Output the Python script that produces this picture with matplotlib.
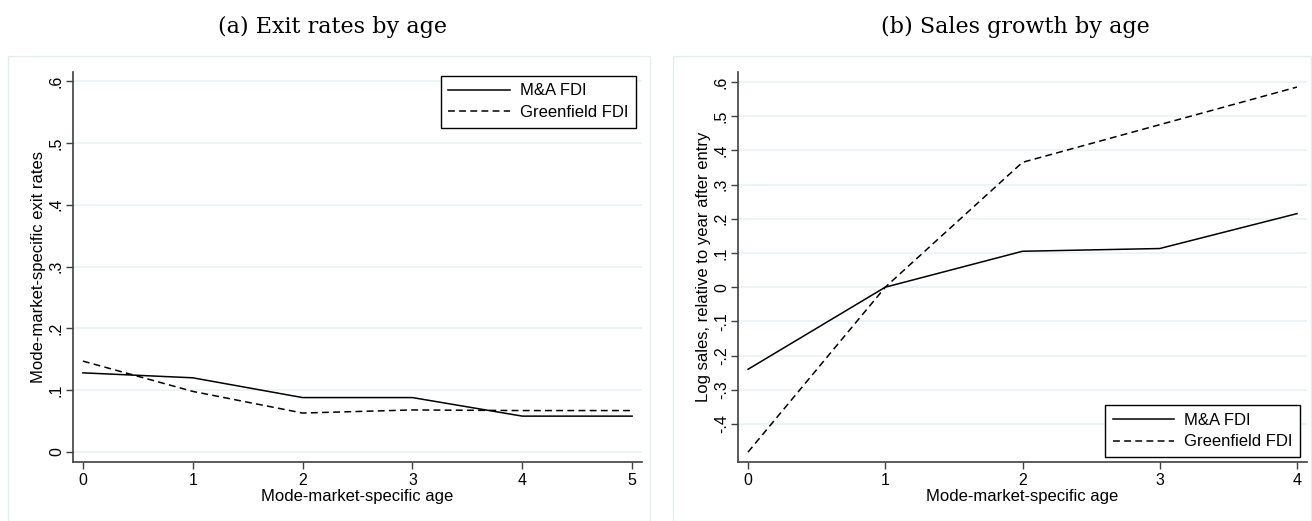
"""
Exit rates and sales growth by mode-market-specific age, M&A vs Greenfield FDI.
"""
import matplotlib.pyplot as plt
from matplotlib.patches import Rectangle

# (a) exit rates
age_exit = [0, 1, 2, 3, 4, 5]
exit_ma = [0.128, 0.120, 0.088, 0.088, 0.058, 0.058]
exit_gf = [0.147, 0.098, 0.063, 0.068, 0.067, 0.067]

# (b) log sales relative to year after entry
age_sales = [0, 1, 2, 3, 4]
sales_ma = [-0.240, 0.000, 0.105, 0.113, 0.215]
sales_gf = [-0.482, 0.000, 0.365, 0.475, 0.585]

exit_ticks = [0, 0.1, 0.2, 0.3, 0.4, 0.5, 0.6]
exit_labels = ["0", ".1", ".2", ".3", ".4", ".5", ".6"]
sales_ticks = [-0.4, -0.3, -0.2, -0.1, 0, 0.1, 0.2, 0.3, 0.4, 0.5, 0.6]
sales_labels = ["-.4", "-.3", "-.2", "-.1", "0", ".1", ".2", ".3", ".4", ".5", ".6"]

plt.rcParams['font.family'] = ['Liberation Sans', 'DejaVu Sans']
GRID = '#eaf2f3'
SPINE = '#404040'
TICK_FS = 11.5
LAB_FS = 12

fig = plt.figure(figsize=(13.12, 5.21), dpi=100)

# graph-region frames
for x0, x1 in [(8, 650), (673, 1311)]:
    fig.patches.append(Rectangle((x0 / 1312, 0), (x1 - x0) / 1312, 1 - 56 / 521,
                                 transform=fig.transFigure, fill=False,
                                 edgecolor='#e6eded', linewidth=1.0))


def style_axes(ax, xticks, yticks, ylabels):
    ax.set_xticks(xticks)
    ax.set_xticklabels([str(t) for t in xticks], fontsize=TICK_FS)
    ax.set_yticks(yticks)
    ax.set_yticklabels(ylabels, fontsize=TICK_FS, rotation=90, va='center')
    ax.grid(axis='y', color=GRID, linewidth=1.2)
    ax.set_axisbelow(True)
    for s in ['top', 'right']:
        ax.spines[s].set_visible(False)
    for s in ['left', 'bottom']:
        ax.spines[s].set_color(SPINE)
        ax.spines[s].set_linewidth(1.2)
    ax.tick_params(direction='out', length=5, width=1, color=SPINE, pad=3)
    ax.tick_params(axis='y', pad=1.5)
    ax.set_xlabel("Mode-market-specific age", fontsize=LAB_FS, labelpad=1)


def add_legend(ax, loc, anchor):
    leg = ax.legend(loc=loc, bbox_to_anchor=anchor, borderaxespad=0,
                    fontsize=LAB_FS, handlelength=3.7, fancybox=False,
                    edgecolor='black', framealpha=1, borderpad=0.45,
                    labelspacing=0.4, handletextpad=0.6)
    leg.get_frame().set_linewidth(1.0)


# left panel
ax1 = fig.add_axes([73 / 1312, 1 - 462 / 521, 569 / 1312, 390 / 521])
ax1.plot(age_exit, exit_ma, color='black', linewidth=1.1, label='M&A FDI')
ax1.plot(age_exit, exit_gf, color='black', linewidth=1.1, dashes=(4.5, 2.8),
         label='Greenfield FDI')
ax1.set_xlim(-0.09, 5.09)
ax1.set_ylim(-0.0162, 0.6146)
style_axes(ax1, age_exit, exit_ticks, exit_labels)
ax1.set_ylabel("Mode-market-specific exit rates", fontsize=LAB_FS, labelpad=2)
add_legend(ax1, 'upper right', (0.989, 0.99))

# right panel
ax2 = fig.add_axes([738 / 1312, 1 - 462 / 521, 569 / 1312, 390 / 521])
ax2.plot(age_sales, sales_ma, color='black', linewidth=1.1, label='M&A FDI')
ax2.plot(age_sales, sales_gf, color='black', linewidth=1.1, dashes=(4.5, 2.8),
         label='Greenfield FDI')
ax2.set_xlim(-0.073, 4.073)
ax2.set_ylim(-0.511, 0.629)
style_axes(ax2, age_sales, sales_ticks, sales_labels)
ax2.set_ylabel("Log sales, relative to year after entry", fontsize=LAB_FS, labelpad=2)
add_legend(ax2, 'lower right', (0.988, 0.013))

# panel titles
fig.text(333 / 1312, 1 - 27 / 521, "(a) Exit rates by age", ha='center', va='center',
         fontsize=16, family=['DejaVu Serif'])
fig.text(1015 / 1312, 1 - 27 / 521, "(b) Sales growth by age", ha='center', va='center',
         fontsize=16, family=['DejaVu Serif'])

plt.savefig("out.png", dpi=100)
